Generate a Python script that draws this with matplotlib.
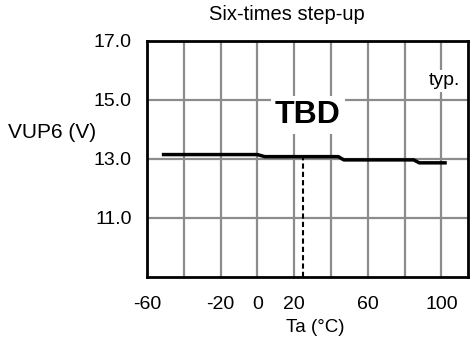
import matplotlib.pyplot as plt

plt.rcParams['font.family'] = ['Liberation Sans', 'DejaVu Sans']

# VUP6 vs Ta (stepped curve)
ta = [-51, 0, 4, 44, 47, 85, 88, 102]
vup6 = [13.15, 13.15, 13.08, 13.08, 12.97, 12.97, 12.87, 12.87]

xticks = [-60, -20, 0, 20, 60, 100]
xgrid = [-40, -20, 0, 20, 40, 60, 80, 100]
yticks = [11.0, 13.0, 15.0, 17.0]
ygrid = [11.0, 13.0, 15.0]
ta_typ = 25

fig = plt.figure(figsize=(4.74, 3.41), dpi=100)
ax = fig.add_axes([147 / 474, 1 - 277 / 341, (468 - 147) / 474, (277 - 41) / 341])
ax.set_xlim(-60, 114.5)
ax.set_ylim(9, 17)

for x in xgrid:
    ax.axvline(x, color='#8c8c8c', lw=1.6, zorder=1)
for y in ygrid:
    ax.axhline(y, color='#8c8c8c', lw=1.6, zorder=1)

ax.plot(ta, vup6, color='black', lw=2.5, zorder=3)

# dashed marker at typical temperature
y_at = 13.08
ax.plot([ta_typ, ta_typ], [9, y_at], color='black', lw=1.5, ls=(0, (2.5, 1.5)), zorder=3)

ax.text(27.5, 14.5, 'TBD', fontsize=23, fontweight='bold', ha='center', va='center',
        zorder=4, bbox=dict(facecolor='white', edgecolor='none', pad=3))
ax.text(101.5, 15.65, 'typ.', fontsize=14, ha='center', va='center', zorder=4,
        bbox=dict(facecolor='white', edgecolor='none', pad=2))

ax.set_xticks(xticks)
ax.set_xticklabels([str(v) for v in xticks])
ax.set_yticks(yticks)
ax.set_yticklabels(['%.1f' % v for v in yticks])
ax.tick_params(length=0, labelsize=14)
ax.tick_params(axis='y', pad=11)
ax.tick_params(axis='x', pad=14)
for s in ax.spines.values():
    s.set_linewidth(2)
    s.set_zorder(5)

fig.text(315 / 474, 1 - 327 / 341, 'Ta (°C)', fontsize=13.5, ha='center', va='center')
fig.text(287 / 474, 1 - 15 / 341, 'Six-times step-up', fontsize=14.5, ha='center', va='center')
fig.text(52 / 474, 1 - 132 / 341, 'VUP6 (V)', fontsize=15, ha='center', va='center')

fig.savefig('out.png', dpi=100)
